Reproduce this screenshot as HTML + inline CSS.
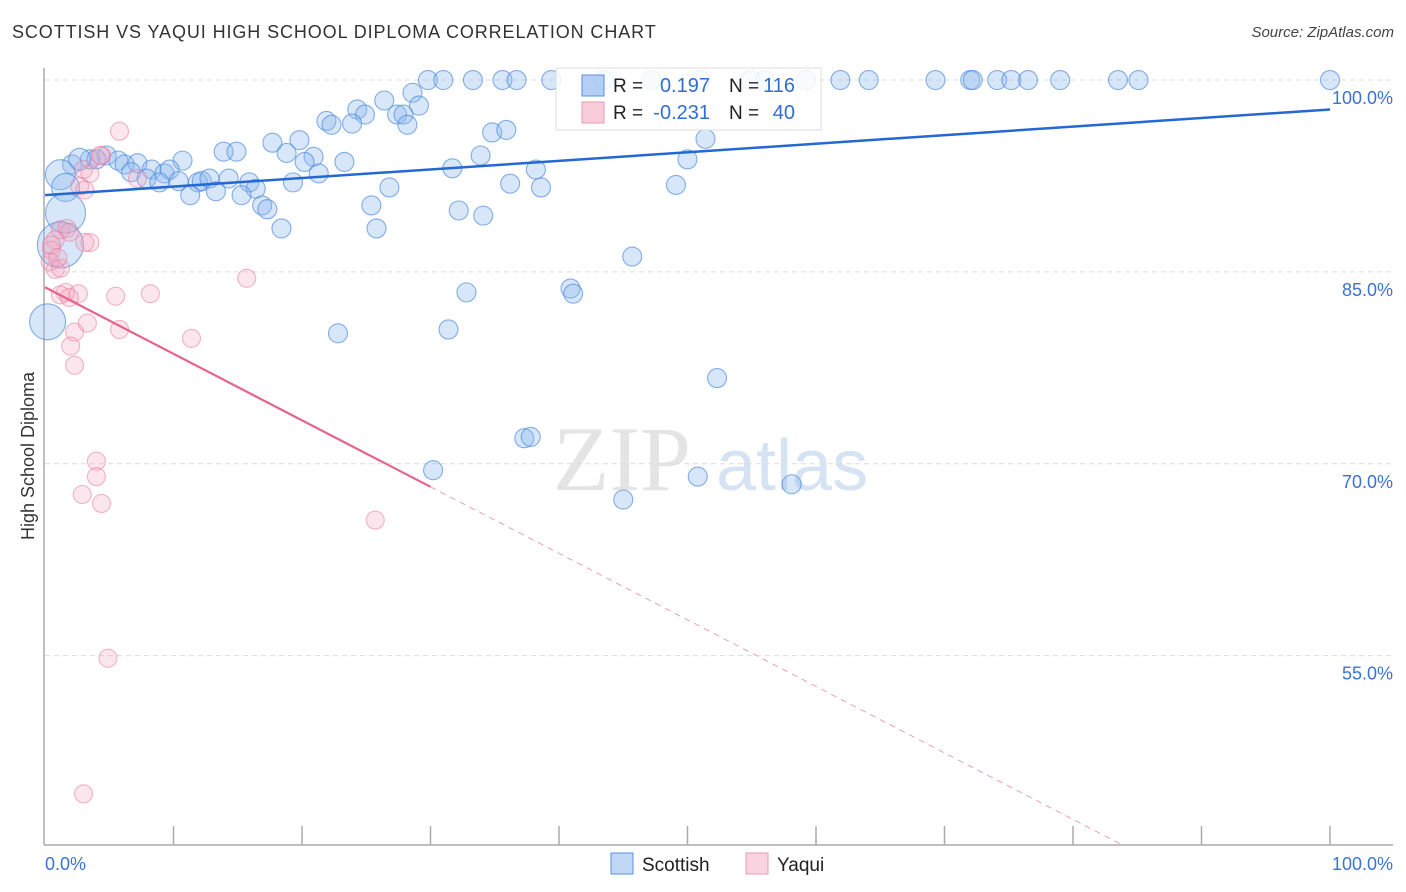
<!DOCTYPE html>
<html><head><meta charset="utf-8">
<style>
body{margin:0;background:#fff;font-family:"Liberation Sans",sans-serif;}
#wrap{position:relative;width:1406px;height:892px;overflow:hidden;}
.t{position:absolute;white-space:nowrap;}
</style></head>
<body>
<div id="wrap">
<div class="t" style="left:12px;top:22px;font-size:18px;color:#333;letter-spacing:0.9px">SCOTTISH VS YAQUI HIGH SCHOOL DIPLOMA CORRELATION CHART</div>
<div class="t" style="right:12px;top:24px;font-size:15px;color:#444;font-style:italic">Source: ZipAtlas.com</div>
<svg id="svg" width="1406" height="892" style="position:absolute;left:0;top:0"></svg>
</div>
<script>
const xTicks=[0,10,20,30,40,50,60,70,80,90,100];
const yGrid=[100,85,70,55];
const yGridLabels=["100.0%","85.0%","70.0%","55.0%"];
const blueX=[29.8,31.0,33.3,35.6,36.7,39.4,43.5,47.2,51.0,54.9,56.0,59.2,61.9,64.1,69.3,72.0,72.2,74.1,75.2,76.5,79.0,83.5,85.1,100,
28.6,29.1,26.4,24.3,24.9,27.4,27.9,21.9,22.3,23.9,28.2,34.8,35.9,17.7,19.8,13.9,14.9,18.8,20.9,20.2,23.3,33.9,50.0,51.4,10.7,4.8,3.5,4.0,5.7,6.2,7.2,8.3,6.7,9.3,9.7,7.9,8.9,10.4,11.9,12.2,12.8,14.3,15.9,16.4,19.3,21.3,31.7,38.2,36.2,38.6,26.8,49.1,11.3,13.3,15.3,16.9,17.3,25.4,32.2,34.1,18.4,25.8,45.7,32.8,40.9,41.1,22.8,31.4,52.3,37.3,37.8,30.2,45.0,58.1,50.8,2.1,2.7,1.2,1.6,1.6,1.2,0.2];
const blueY=[100,100,100,100,100,100,100,100,100,100,100,100,100,100,100,100,100,100,100,100,100,100,100,100,
99.0,98.0,98.4,97.7,97.3,97.3,97.3,96.8,96.5,96.6,96.5,95.9,96.1,95.1,95.3,94.4,94.4,94.3,94.0,93.6,93.6,94.1,93.8,95.4,93.7,94.1,93.8,93.8,93.7,93.4,93.5,93.0,92.8,92.7,93.0,92.3,92.0,92.1,92.0,92.1,92.3,92.3,92.0,91.5,92.0,92.7,93.1,93.0,91.9,91.6,91.6,91.8,91.0,91.3,91.0,90.2,89.9,90.2,89.8,89.4,88.4,88.4,86.2,83.4,83.7,83.3,80.2,80.5,76.7,72.0,72.1,69.5,67.2,68.4,69.0,93.4,93.8,92.6,91.6,89.6,87.1,81.1];
const pinkX=[5.8,4.4,4.3,3.0,3.5,7.2,2.7,3.1,1.2,1.7,1.9,3.5,3.1,0.8,0.5,0.4,0.8,1.2,0.5,1.0,15.7,1.6,2.6,1.2,1.9,5.5,8.2,3.3,2.3,5.8,11.4,2.0,2.3,4.0,4.0,2.9,4.4,25.7,4.9,3.0];
const pinkY=[96.0,94.1,94.1,93.0,92.7,92.3,91.7,91.4,88.3,88.4,88.1,87.3,87.3,87.5,86.7,85.8,85.2,85.3,87.1,86.1,84.5,83.4,83.3,83.2,83.0,83.1,83.3,81.0,80.3,80.5,79.8,79.2,77.7,70.2,69.0,67.6,66.9,65.6,54.8,44.2];
const blueTrend=[91.0,97.7];
const pinkTrend=[83.8,-0.52];
const pinkSolidEnd=30, pinkDashEnd=83.7;
const bigBlue={"100":11,"101":15,"102":14,"103":20,"104":23,"105":18,"106":20};

const X0=45,X1=1330,YTOP=68,YBOT=845,YMAX=100.94,YMIN=40.2;
const sx=v=>X0+(X1-X0)*v/100;
const sy=v=>YBOT-(YBOT-YTOP)*(v-YMIN)/(YMAX-YMIN);
const svg=document.getElementById('svg');
const NS='http://www.w3.org/2000/svg';
function mk(tag,attrs){const e=document.createElementNS(NS,tag);for(const k in attrs)e.setAttribute(k,attrs[k]);svg.appendChild(e);return e;}

let w=mk('text',{x:553,y:490,'font-size':92,'font-family':'Liberation Serif,serif',fill:'#e4e4e4'});w.textContent='ZIP';


let w2=mk('text',{x:716,y:490,'font-size':72,'font-family':'Liberation Sans,sans-serif',fill:'#d6e3f3'});w2.textContent='atlas';



yGrid.forEach((g,i)=>{
  const l=mk('line',{x1:X0,x2:1393,y1:sy(g),y2:sy(g),stroke:'#dcdcdc','stroke-dasharray':'5,4'});
  
  
  const t=mk('text',{x:1393,y:sy(g)+24,'text-anchor':'end','font-size':18,fill:'#3a73d0'});
  t.textContent=yGridLabels[i];
  
  
});
let ax=mk('line',{x1:X0-1,x2:X0-1,y1:YTOP,y2:YBOT,stroke:'#aaa','stroke-width':1.5});


let bx=mk('line',{x1:X0-1,x2:1393,y1:YBOT,y2:YBOT,stroke:'#aaa','stroke-width':1.5});


xTicks.forEach(v=>{if(v===0)return;const t=mk('line',{x1:sx(v),x2:sx(v),y1:826,y2:YBOT,stroke:'#aaa','stroke-width':1.5});

});
let xl=mk('text',{x:45,y:870,'font-size':18,fill:'#3a73d0'});xl.textContent='0.0%';


let xr=mk('text',{x:1393,y:870,'font-size':18,fill:'#3a73d0','text-anchor':'end'});xr.textContent='100.0%';


let yt=mk('text',{x:0,y:0,'font-size':18,fill:'#333','text-anchor':'middle',transform:'translate(34,456) rotate(-90)'});yt.textContent='High School Diploma';



blueX.forEach((x,i)=>{
  const r=bigBlue[i]||9.5;
  const c=mk('circle',{cx:sx(x),cy:sy(blueY[i]),r:r,fill:'rgba(140,182,238,0.35)',stroke:'rgba(70,135,220,0.65)','stroke-width':1.1});
  
  
});
pinkX.forEach((x,i)=>{
  const c=mk('circle',{cx:sx(x),cy:sy(pinkY[i]),r:9,fill:'rgba(245,165,190,0.28)',stroke:'rgba(232,120,158,0.55)','stroke-width':1.1});
  
  
});
let bl=mk('line',{x1:sx(0),y1:sy(blueTrend[0]),x2:sx(100),y2:sy(blueTrend[1]),stroke:'#2468d4','stroke-width':2.5});


let pl=mk('line',{x1:sx(0),y1:sy(pinkTrend[0]),x2:sx(pinkSolidEnd),y2:sy(pinkTrend[0]+pinkTrend[1]*pinkSolidEnd),stroke:'#e4648e','stroke-width':2.2});


let pd=mk('line',{x1:sx(pinkSolidEnd),y1:sy(pinkTrend[0]+pinkTrend[1]*pinkSolidEnd),x2:sx(pinkDashEnd),y2:sy(pinkTrend[0]+pinkTrend[1]*pinkDashEnd),stroke:'#e8a0b8','stroke-width':1,'stroke-dasharray':'6,5'});



let lg=mk('rect',{x:556,y:68,width:265,height:62,fill:'rgba(255,255,255,0.85)',stroke:'#ddd'});


[[0,'rgba(130,175,235,0.6)','#5d8fdc','0.197','116'],[1,'rgba(245,170,195,0.6)','#eb9ab5','-0.231','40']].forEach(([i,f,s,r,n])=>{
  const y=75+i*27;
  const sq=mk('rect',{x:582,y:y,width:22,height:21,fill:f,stroke:s});
  
  
  const t1=mk('text',{x:613,y:y+17,'font-size':19,fill:'#222'});t1.textContent='R =';
  
  
  const t2=mk('text',{x:710,y:y+17,'font-size':20,fill:'#2f6fd0','text-anchor':'end'});t2.textContent=r;
  
  
  const t3=mk('text',{x:729,y:y+17,'font-size':19,fill:'#222'});t3.textContent='N =';
  
  
  const t4=mk('text',{x:795,y:y+17,'font-size':20,fill:'#2f6fd0','text-anchor':'end'});t4.textContent=n;
  
  
});
[[611,'rgba(130,175,235,0.5)','#5d8fdc','Scottish'],[746,'rgba(245,170,195,0.5)','#eb9ab5','Yaqui']].forEach(([x,f,s,l])=>{
  const sq=mk('rect',{x:x,y:853,width:22,height:21,fill:f,stroke:s});
  
  
  const t=mk('text',{x:x+31,y:871,'font-size':19,fill:'#222'});t.textContent=l;
  
  
});
</script>
</body></html>
